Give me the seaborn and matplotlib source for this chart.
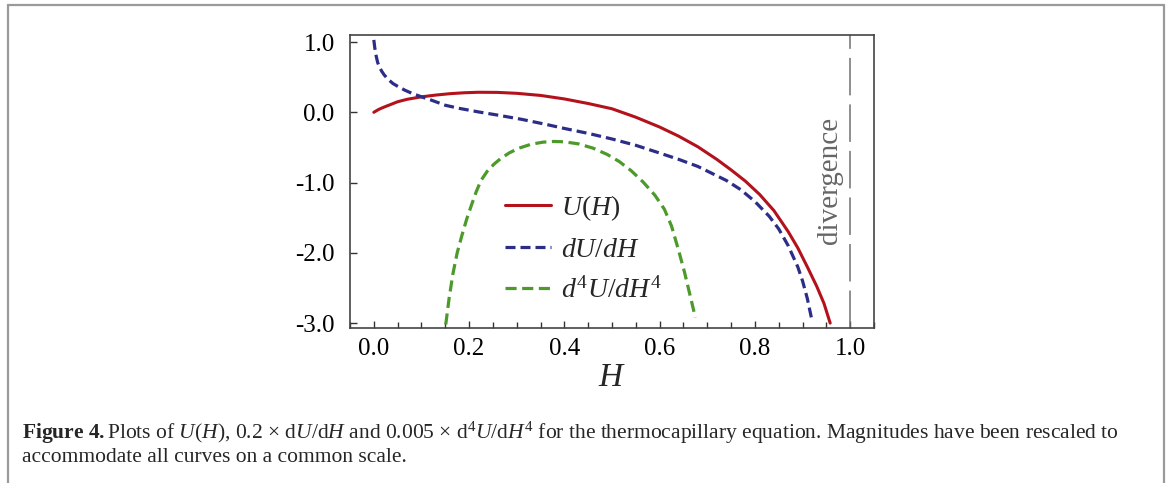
import numpy as np
import pandas as pd
import matplotlib
matplotlib.use("Agg")
import matplotlib.pyplot as plt
from matplotlib.lines import Line2D
from matplotlib.ticker import MultipleLocator, FormatStrFormatter
import seaborn as sns

# U(H)
u_h = [0.0, 0.01, 0.02, 0.035, 0.05, 0.07, 0.10, 0.13, 0.16, 0.19, 0.22, 0.26,
       0.30, 0.35, 0.40, 0.45, 0.50, 0.55, 0.60, 0.64, 0.68, 0.72, 0.75, 0.78,
       0.81, 0.84, 0.87, 0.89, 0.91, 0.93, 0.945, 0.958]
u_v = [0.0, 0.04, 0.07, 0.11, 0.15, 0.185, 0.22, 0.245, 0.265, 0.278, 0.285, 0.283,
       0.27, 0.24, 0.19, 0.125, 0.05, -0.07, -0.21, -0.34, -0.49, -0.67, -0.82, -0.98,
       -1.17, -1.40, -1.70, -1.93, -2.20, -2.48, -2.72, -3.0]

# 0.2 * dU/dH
du_h = [0.0, 0.002, 0.005, 0.008, 0.012, 0.017, 0.022, 0.03, 0.04, 0.05, 0.065,
        0.08, 0.10, 0.12, 0.15, 0.18, 0.22, 0.26, 0.31, 0.36, 0.40, 0.45, 0.50,
        0.55, 0.60, 0.64, 0.68, 0.71, 0.74, 0.77, 0.80, 0.83, 0.85, 0.87, 0.89,
        0.90, 0.91, 0.92]
du_v = [1.03, 0.92, 0.80, 0.71, 0.64, 0.58, 0.53, 0.47, 0.41, 0.37, 0.315,
        0.27, 0.22, 0.175, 0.10, 0.055, 0.005, -0.04, -0.10, -0.17, -0.23, -0.30, -0.38,
        -0.47, -0.58, -0.67, -0.77, -0.87, -0.97, -1.10, -1.27, -1.48, -1.66, -1.90, -2.20,
        -2.40, -2.65, -2.97]

# 0.005 * d4U/dH4
d4_h = [0.151, 0.158, 0.166, 0.175, 0.185, 0.195, 0.205, 0.215, 0.225, 0.238, 0.252,
        0.266, 0.285, 0.305, 0.33, 0.355, 0.378, 0.40, 0.43, 0.46, 0.49, 0.515, 0.54,
        0.565, 0.59, 0.61, 0.625, 0.64, 0.652, 0.663, 0.675]
d4_v = [-3.02, -2.65, -2.30, -2.00, -1.75, -1.52, -1.32, -1.13, -0.97, -0.84, -0.74,
        -0.66, -0.575, -0.51, -0.455, -0.425, -0.415, -0.42, -0.45, -0.51, -0.60, -0.70, -0.83,
        -0.99, -1.18, -1.38, -1.62, -1.97, -2.27, -2.58, -2.92]

x_ticks = [0.0, 0.2, 0.4, 0.6, 0.8, 1.0]
y_ticks = [1.0, 0.0, -1.0, -2.0, -3.0]
divergence_h = 1.0

labels = [r"$\mathit{U(H)}$", r"$\mathit{dU/dH}$", r"$\mathit{d^4U/dH^4}$"]
colors = ["#b3121c", "#2c2d86", "#4c9a2a"]

sns.set_theme(style="ticks")
plt.rcParams.update({
    "font.family": ["Liberation Serif", "DejaVu Serif"],
    "mathtext.fontset": "custom",
    "mathtext.it": "Liberation Serif:italic",
    "mathtext.rm": "Liberation Serif",
    "mathtext.bf": "Liberation Serif:bold",
    "axes.unicode_minus": False,
    "lines.scale_dashes": False,
})

W, Hpx = 1171, 483
fig = plt.figure(figsize=(W / 100, Hpx / 100), dpi=100)
ax = fig.add_axes([350 / W, 1 - 328 / Hpx, 524 / W, 293 / Hpx])

df_u = pd.DataFrame({"H": u_h, "v": u_v})
df_du = pd.DataFrame({"H": du_h, "v": du_v})
df_d4 = pd.DataFrame({"H": d4_h, "v": d4_v})

sns.lineplot(data=df_u, x="H", y="v", ax=ax, color=colors[0], lw=2.2,
             label=labels[0])
sns.lineplot(data=df_du, x="H", y="v", ax=ax, color=colors[1], lw=2.3,
             label=labels[1])
ax.lines[-1].set_dashes([7.2, 3.6])
sns.lineplot(data=df_d4, x="H", y="v", ax=ax, color=colors[2], lw=2.3,
             label=labels[2])
ax.lines[-1].set_dashes([8.0, 4.0])
for ln in ax.lines:
    ln.set_solid_joinstyle("round")
    ln.set_dash_joinstyle("round")

vl = ax.axvline(divergence_h, color="#707070", lw=1.1)
vl.set_dashes([27, 6.5])
ax.text(0.958, -0.97, "divergence", rotation=90, ha="center", va="center",
        fontsize=21, color="#666666")

ax.set_xlim(-0.05, 1.05)
ax.set_ylim(-3.07, 1.1)
ax.set_xticks(x_ticks)
ax.set_yticks(y_ticks)
ax.xaxis.set_minor_locator(MultipleLocator(0.05))
ax.xaxis.set_major_formatter(FormatStrFormatter("%.1f"))
ax.yaxis.set_major_formatter(FormatStrFormatter("%.1f"))
ax.tick_params(axis="both", which="both", direction="in", labelsize=18,
               colors="#333333", labelcolor="black")
ax.tick_params(axis="x", which="major", length=5, width=1, pad=7)
ax.tick_params(axis="x", which="minor", length=4, width=1)
ax.tick_params(axis="y", which="major", length=5, width=1, pad=11)
for s in ax.spines.values():
    s.set_color("#444444")
    s.set_linewidth(1.2)
ax.set_xlabel(r"$\mathit{H}$", fontsize=24, labelpad=2)
ax.set_ylabel("")

leg = ax.legend(loc="upper left", bbox_to_anchor=((505 - 350) / 524, (328 - 193) / 293),
                frameon=False, fontsize=20, handlelength=1.65, handletextpad=0.35,
                labelspacing=0.52, borderpad=0, borderaxespad=0)

# figure border (left, top, right edges)
gray = "#9a9a9a"
fig.add_artist(Line2D([8 / W, 8 / W], [0, 1 - 5 / Hpx], color=gray, lw=1.6,
                      transform=fig.transFigure))
fig.add_artist(Line2D([8 / W, 1164 / W], [1 - 5 / Hpx, 1 - 5 / Hpx], color=gray,
                      lw=1.6, transform=fig.transFigure))
fig.add_artist(Line2D([1164 / W, 1164 / W], [0, 1 - 5 / Hpx], color=gray, lw=1.6,
                      transform=fig.transFigure))

cap1 = (r"$\mathbf{Figure\ 4.}$Plots of $U$($H$), 0.2 $\times$ d$U$/d$H$ and "
        r"0.005 $\times$ d$^4U$/d$H^4$ for the thermocapillary equation. "
        r"Magnitudes have been rescaled to")
cap2 = "accommodate all curves on a common scale."
fig.text(22 / W, 1 - 433 / Hpx, cap1, fontsize=15.5, va="center", ha="left")
fig.text(22 / W, 1 - 458 / Hpx, cap2, fontsize=15.5, va="center", ha="left")

fig.savefig("out.png", dpi=100)
